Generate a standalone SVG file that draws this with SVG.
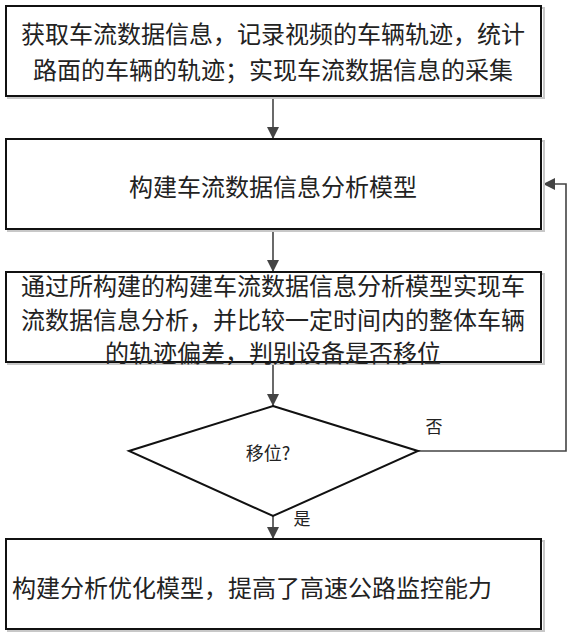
<svg xmlns="http://www.w3.org/2000/svg" width="571" height="636" viewBox="0 0 571 636">
<style>
.box{fill:#fff;stroke:#111;stroke-width:2}
.sh{fill:none;stroke:#c8c8c8;stroke-width:2}
.t{font-family:"Noto Sans CJK SC","Noto Sans",sans-serif;font-size:24px;fill:#222;text-anchor:middle;dominant-baseline:central}
.s{font-size:17px}
.c{fill:none;stroke:#444;stroke-width:1.6}
</style>
<defs>
<marker id="ah" viewBox="0 0 10 10" refX="10" refY="5" markerWidth="12" markerHeight="12" markerUnits="userSpaceOnUse" orient="auto">
<path d="M0,0 L10,5 L0,10 z" fill="#444"/>
</marker>
</defs>
<rect width="571" height="636" fill="#fff"/>
<g id="connectors">
<line class="c" x1="273" y1="96" x2="273" y2="139" marker-end="url(#ah)"/>
<line class="c" x1="273" y1="229" x2="273" y2="272" marker-end="url(#ah)"/>
<line class="c" x1="273" y1="363" x2="273" y2="406" marker-end="url(#ah)"/>
<line class="c" x1="273" y1="516" x2="273" y2="539" marker-end="url(#ah)"/>
<polyline class="c" points="418,451 566,451 566,184 543,184" marker-end="url(#ah)"/>
<text class="t s" x="434" y="425">否</text>
<text class="t s" x="302" y="517">是</text>
</g>
<g id="n1">
<rect class="sh" x="8" y="8" width="536" height="90"/>
<rect class="box" x="6" y="6" width="535" height="90"/>
<text class="t" x="273" y="32">获取车流数据信息，记录视频的车辆轨迹，统计</text>
<text class="t" x="273" y="68">路面的车辆的轨迹；实现车流数据信息的采集</text>
</g>
<g id="n2">
<rect class="sh" x="8" y="141" width="536" height="90"/>
<rect class="box" x="6" y="139" width="535" height="90"/>
<text class="t" x="273" y="185">构建车流数据信息分析模型</text>
</g>
<g id="n3">
<rect class="sh" x="8" y="274" width="536" height="90"/>
<rect class="box" x="6" y="272" width="535" height="90"/>
<text class="t" x="273" y="284">通过所构建的构建车流数据信息分析模型实现车</text>
<text class="t" x="273" y="318">流数据信息分析，并比较一定时间内的整体车辆</text>
<text class="t" x="273" y="351">的轨迹偏差，判别设备是否移位</text>
</g>
<g id="n4">
<polygon points="273,406 418,451 273,516 129,451" fill="#fff" stroke="#111" stroke-width="2"/>
<text class="t" x="268" y="452" style="font-size:18px">移位?</text>
</g>
<g id="n5">
<rect class="sh" x="8" y="541" width="536" height="90"/>
<rect class="box" x="6" y="539" width="535" height="90"/>
<text class="t" x="252" y="586">构建分析优化模型，提高了高速公路监控能力</text>
</g>
</svg>
